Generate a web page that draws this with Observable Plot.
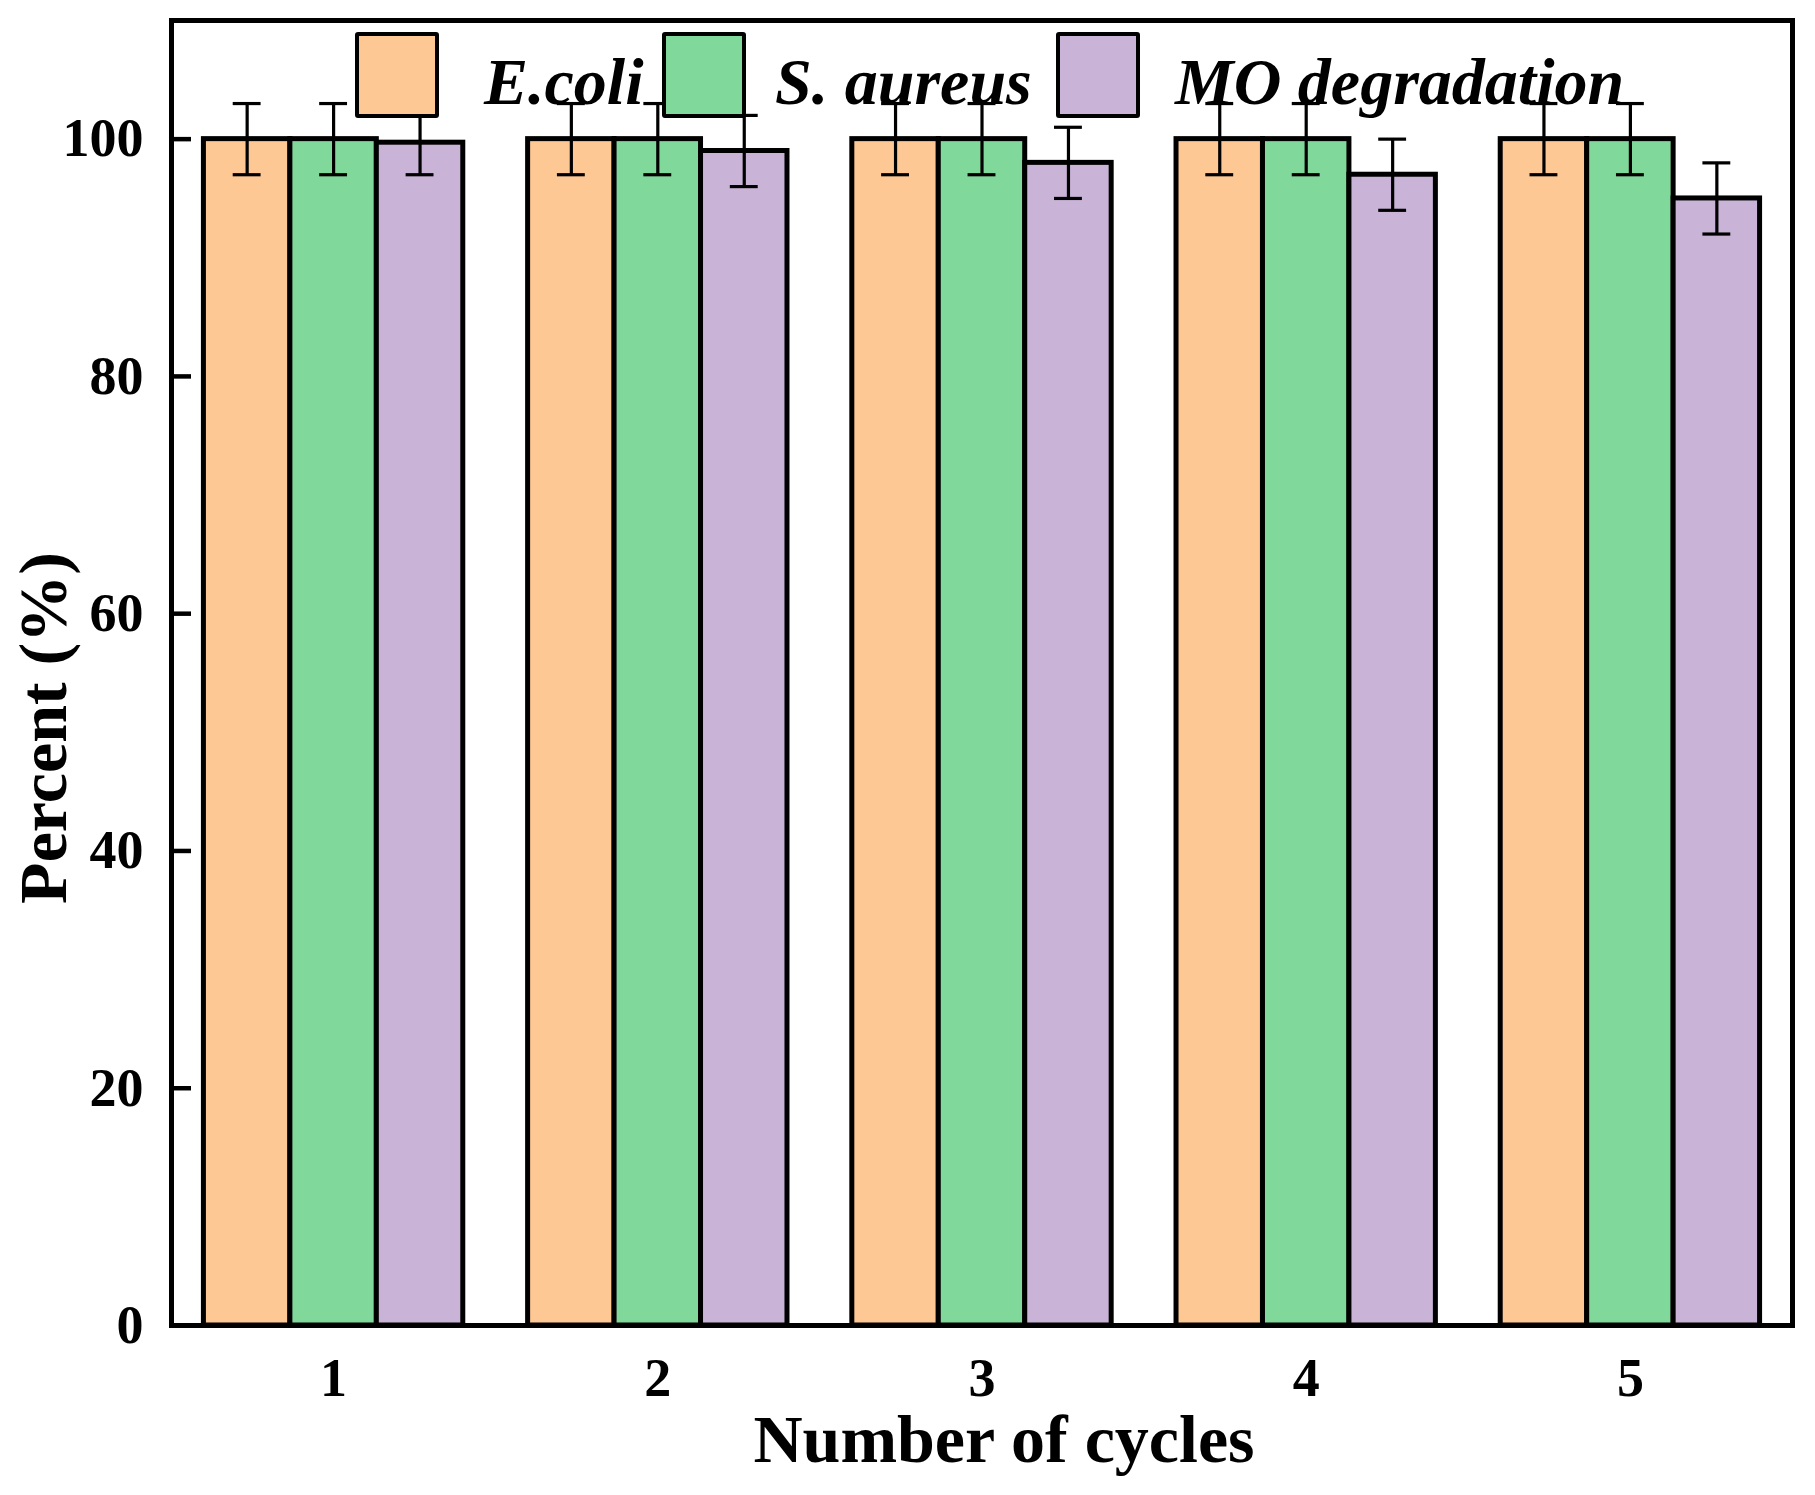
<!DOCTYPE html>
<html><head><meta charset="utf-8">
<script src="https://cdn.jsdelivr.net/npm/d3@7"></script>
<script src="https://cdn.jsdelivr.net/npm/@observablehq/plot@0.6"></script>
<style>
body{margin:0;background:#fff;}
#wrap{position:relative;width:1815px;height:1495px;font-family:"Liberation Serif","Times New Roman",serif;}
.lbox{position:absolute;top:32px;width:76px;height:78px;border:4px solid #000;border-radius:3px;}
.ltxt{position:absolute;top:49px;font-size:66px;line-height:66px;font-style:italic;font-weight:bold;white-space:nowrap;color:#000;}
</style></head><body><div id="wrap"></div><script>
const cycles = [1, 2, 3, 4, 5];
const seriesNames = ["E.coli", "S. aureus", "MO degradation"];
const ecoliValues = [100, 100, 100, 100, 100];
const ecoliErrors = [3, 3, 3, 3, 3];
const saureusValues = [100, 100, 100, 100, 100];
const saureusErrors = [3, 3, 3, 3, 3];
const moValues = [99.7, 99, 98, 97, 95];
const moErrors = [2.7, 3, 3, 3, 3];
const seriesColors = ["#FEC894", "#80D89B", "#C9B3D7"];
const yTicks = [0, 20, 40, 60, 80, 100];

const groupWidth = 0.8;
const barW = groupWidth / 3;
const capHalf = 0.043;
const rows = [];
[[ecoliValues, ecoliErrors], [saureusValues, saureusErrors], [moValues, moErrors]].forEach(([vals, errs], k) => {
  cycles.forEach((c, i) => {
    const x1 = c - groupWidth / 2 + k * barW;
    rows.push({series: seriesNames[k], cycle: c, value: vals[i], err: errs[i], x1, x2: x1 + barW, xc: x1 + barW / 2});
  });
});

const chart = Plot.plot({
  width: 1815, height: 1495,
  marginLeft: 171, marginRight: 23, marginTop: 20, marginBottom: 170,
  style: {fontFamily: "'Liberation Serif','Times New Roman',serif", fontWeight: "bold", fontSize: "54px", background: "white", color: "black"},
  x: {domain: [0.5, 5.5]},
  y: {domain: [0, 110]},
  color: {domain: seriesNames, range: seriesColors},
  marks: [
    Plot.rectY(rows, {x1: "x1", x2: "x2", y1: 0, y2: "value", fill: "series", stroke: "black", strokeWidth: 5}),
    Plot.ruleX(rows, {x: "xc", y1: d => d.value - d.err, y2: d => d.value + d.err, stroke: "black", strokeWidth: 3.2}),
    Plot.ruleY(rows, {y: d => d.value + d.err, x1: d => d.xc - capHalf, x2: d => d.xc + capHalf, stroke: "black", strokeWidth: 3.2}),
    Plot.ruleY(rows, {y: d => d.value - d.err, x1: d => d.xc - capHalf, x2: d => d.xc + capHalf, stroke: "black", strokeWidth: 3.2}),
    Plot.frame({stroke: "black", strokeWidth: 5}),
    Plot.axisY({ticks: yTicks, tickSize: -20, fill: "none", stroke: "black", strokeWidth: 4.5}),
    Plot.axisY({ticks: yTicks, tickSize: 0, tickPadding: 28, label: null}),
    Plot.axisX({ticks: cycles, tickSize: 0, tickPadding: 32, tickFormat: d => String(d), label: null}),
    Plot.text(["Number of cycles"], {frameAnchor: "bottom", dy: 136, dx: 22, lineAnchor: "bottom", textAnchor: "middle", fontSize: 68, fontWeight: "bold", fill: "black"}),
    Plot.text(["Percent (%)"], {frameAnchor: "left", rotate: -90, dx: -154, dy: 55, lineAnchor: "top", textAnchor: "middle", fontSize: 68, fontWeight: "bold", fill: "black"})
  ]
});
const wrap = document.getElementById("wrap");
wrap.appendChild(chart);

const legendBoxLeft = [355, 662, 1056];
const legendTextLeft = [484, 775, 1175];
seriesNames.forEach((name, i) => {
  const b = document.createElement("div");
  b.className = "lbox";
  b.style.left = legendBoxLeft[i] + "px";
  b.style.background = seriesColors[i];
  wrap.appendChild(b);
  const t = document.createElement("div");
  t.className = "ltxt";
  t.style.left = legendTextLeft[i] + "px";
  t.textContent = name;
  wrap.appendChild(t);
});
</script></body></html>
